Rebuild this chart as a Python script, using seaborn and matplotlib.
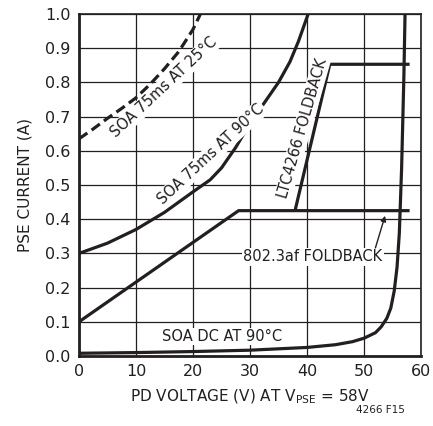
import matplotlib
matplotlib.use("Agg")
import matplotlib.pyplot as plt
import seaborn as sns
import pandas as pd

# ---- data ----
soa25_x = [0, 2.5, 5, 7.5, 10, 12.5, 15, 17.5, 20, 21.3]
soa25_y = [0.635, 0.664, 0.695, 0.724, 0.755, 0.795, 0.84, 0.89, 0.955, 1.0]

soa90_x = [0, 5, 10, 15, 20, 23, 25, 27.5, 30, 32.5, 35, 37, 38.5, 40.2]
soa90_y = [0.30, 0.33, 0.37, 0.42, 0.48, 0.515, 0.55, 0.61, 0.68, 0.74, 0.80, 0.86, 0.92, 1.0]

dc_x = [0, 10, 20, 30, 40, 45, 48, 50, 52, 53, 54, 54.7, 55.3, 55.8, 56.2, 56.6, 57.0, 57.2]
dc_y = [0.008, 0.01, 0.013, 0.017, 0.025, 0.033, 0.042, 0.052, 0.068, 0.085, 0.11, 0.14, 0.19, 0.26, 0.36, 0.55, 0.82, 1.0]

af_x = [0, 28, 58]
af_y = [0.10, 0.425, 0.425]

ltc_x = [37.9, 44.0, 58]
ltc_y = [0.425, 0.853, 0.853]

x_ticks = [0, 10, 20, 30, 40, 50, 60]
y_ticks = [0.0, 0.1, 0.2, 0.3, 0.4, 0.5, 0.6, 0.7, 0.8, 0.9, 1.0]

sns.set_style("white")
plt.rcParams['font.family'] = ['DejaVu Sans']

fig = plt.figure(figsize=(4.33, 4.26), dpi=100)
ax = fig.add_axes([79/433, 1-356/426, 342/433, 342/426])

def draw(xs, ys, ls="-"):
    df = pd.DataFrame({"x": xs, "y": ys})
    sns.lineplot(data=df, x="x", y="y", ax=ax, color="#231f20", lw=2.3,
                 linestyle=ls, sort=False, estimator=None, zorder=3,
                 solid_capstyle="butt", solid_joinstyle="round")

draw(soa25_x, soa25_y, ls=(0, (3.2, 1.6)))
draw(soa90_x, soa90_y)
draw(dc_x, dc_y)
draw(af_x, af_y)
draw(ltc_x, ltc_y)

ax.set_xlim(0, 60)
ax.set_ylim(0, 1.0)
ax.set_xticks(x_ticks)
ax.set_yticks(y_ticks)
ax.set_xticklabels([str(v) for v in x_ticks])
ax.set_yticklabels([f"{v:.1f}" for v in y_ticks])
ax.grid(True, color="#231f20", lw=0.9, zorder=0)
ax.set_axisbelow(True)
for s in ax.spines.values():
    s.set_color("#231f20")
    s.set_linewidth(1.2)
ax.spines["left"].set_linewidth(2.0)
ax.spines["bottom"].set_linewidth(2.0)
ax.tick_params(length=0, labelsize=11.5, pad=6, colors="#231f20")

ax.set_xlabel("PD VOLTAGE (V) AT V$_{\\mathregular{PSE}}$ = 58V", fontsize=11, color="#231f20", labelpad=6)
ax.set_ylabel("PSE CURRENT (A)", fontsize=11, color="#231f20", labelpad=9)

fs = 10.5
bbox = dict(facecolor="white", edgecolor="none", pad=1.0)
ax.text(14.9, 0.785, "SOA 75ms AT 25°C", rotation=43, ha="center", va="center",
        fontsize=fs, color="#231f20", bbox=bbox, zorder=4, rotation_mode="anchor")
ax.text(23.2, 0.59, "SOA 75ms AT 90°C", rotation=43, ha="center", va="center",
        fontsize=fs, color="#231f20", bbox=bbox, zorder=4, rotation_mode="anchor")
ax.text(39.2, 0.667, "LTC4266 FOLDBACK", rotation=74, ha="center", va="center",
        fontsize=fs, color="#231f20", bbox=bbox, zorder=4, rotation_mode="anchor")
ax.text(41.0, 0.29, "802.3af FOLDBACK", ha="center", va="center",
        fontsize=fs, color="#231f20", bbox=bbox, zorder=4)
ax.text(25.1, 0.057, "SOA DC AT 90°C", ha="center", va="center",
        fontsize=fs, color="#231f20", bbox=bbox, zorder=4)
ax.annotate("", xy=(53.7, 0.41), xytext=(52.0, 0.316),
            arrowprops=dict(arrowstyle="-|>", color="#231f20", lw=1.0,
                            mutation_scale=8, shrinkA=0, shrinkB=0), zorder=5)

fig.text(380/433, 1-410/426, "4266 F15", fontsize=7.5, ha="center", va="center", color="#231f20")

fig.savefig("out.png", dpi=100)
